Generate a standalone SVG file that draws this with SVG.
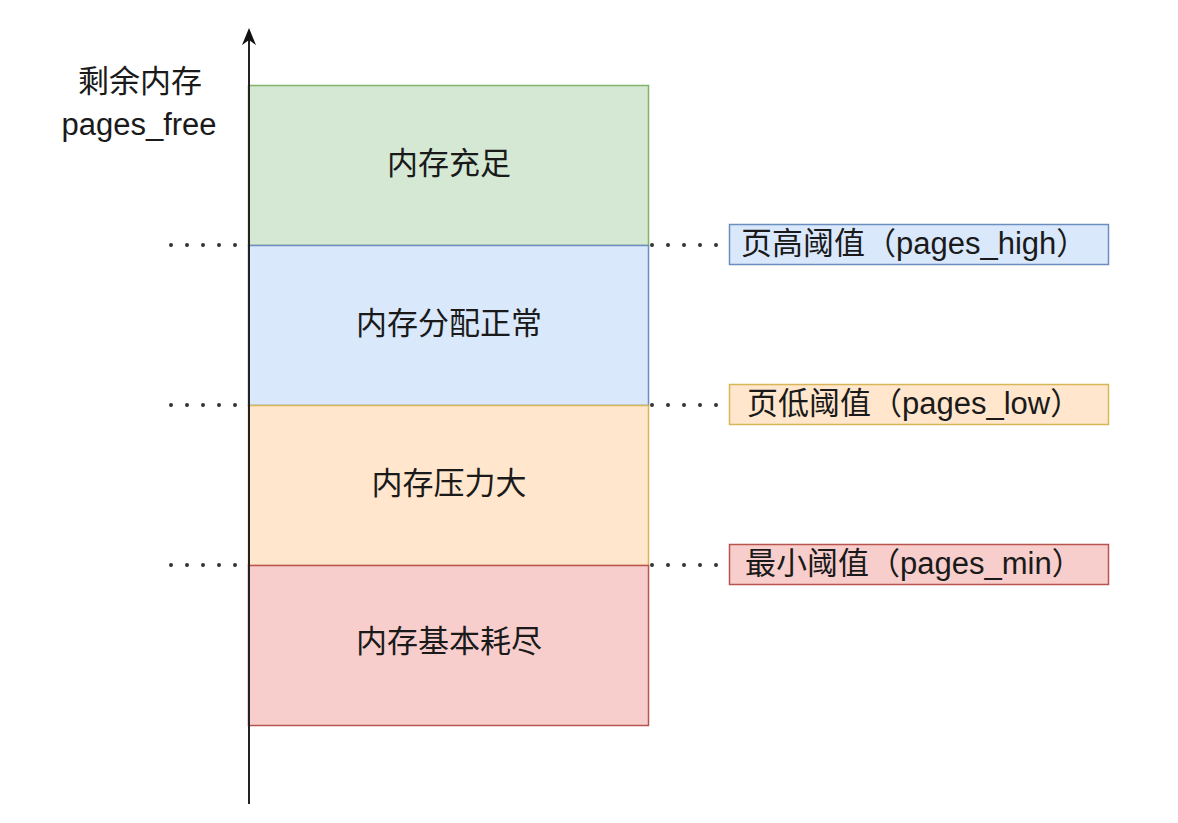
<svg xmlns="http://www.w3.org/2000/svg" width="1178" height="823" viewBox="0 0 1178 823">
  <style>
    text { font-family: "Liberation Sans", "Noto Sans CJK SC", sans-serif; font-size: 31px; fill: #1a1a1a; }
    .mid { text-anchor: middle; dominant-baseline: central; }
    .lbl { dominant-baseline: central; }
    .dots { stroke: #333; stroke-width: 4; stroke-linecap: round; stroke-dasharray: 0 16; fill: none; }
    .axis { stroke: #222; stroke-width: 2; fill: none; }
  </style>
  <defs>
    <marker id="arrow" viewBox="0 0 10 10" refX="3" refY="5" markerWidth="17" markerHeight="14" markerUnits="userSpaceOnUse" orient="auto" preserveAspectRatio="none">
      <path d="M0,0 L10,5 L0,10 L3,5 Z" fill="#111"/>
    </marker>
  </defs>
  <rect width="1178" height="823" fill="#ffffff"/>

  <!-- memory level bands -->
  <g id="band-sufficient">
    <rect x="248.5" y="85.5" width="400" height="160" fill="#d5e8d4" stroke="#82b366" stroke-width="1.5"/>
    <text class="mid" x="449" y="163">内存充足</text>
  </g>
  <g id="band-normal">
    <rect x="248.5" y="245.5" width="400" height="160" fill="#dae8fc" stroke="#6c8ebf" stroke-width="1.5"/>
    <text class="mid" x="449" y="323">内存分配正常</text>
  </g>
  <g id="band-pressure">
    <rect x="248.5" y="405.5" width="400" height="160" fill="#ffe6cc" stroke="#d6b656" stroke-width="1.5"/>
    <text class="mid" x="449" y="483">内存压力大</text>
  </g>
  <g id="band-exhausted">
    <rect x="248.5" y="565.5" width="400" height="160" fill="#f8cecc" stroke="#b85450" stroke-width="1.5"/>
    <text class="mid" x="449" y="641">内存基本耗尽</text>
  </g>

  <!-- threshold labels -->
  <g id="label-high">
    <rect x="729.5" y="224.5" width="379" height="40" fill="#dae8fc" stroke="#6c8ebf" stroke-width="1.5"/>
    <text class="lbl" x="741" y="243">页高阈值（pages_high）</text>
  </g>
  <g id="label-low">
    <rect x="729.5" y="384.5" width="379" height="40" fill="#ffe6cc" stroke="#d6b656" stroke-width="1.5"/>
    <text class="lbl" x="747" y="403">页低阈值（pages_low）</text>
  </g>
  <g id="label-min">
    <rect x="729.5" y="544.5" width="379" height="40" fill="#f8cecc" stroke="#b85450" stroke-width="1.5"/>
    <text class="lbl" x="745" y="563">最小阈值（pages_min）</text>
  </g>

  <!-- axis title -->
  <g id="axis-title">
    <text class="mid" x="140" y="81">剩余内存</text>
    <text class="mid" x="139" y="124">pages_free</text>
  </g>

  <!-- connectors -->
  <g id="connectors">
    <line class="axis" x1="249" y1="804" x2="249" y2="40" marker-end="url(#arrow)"/>
    <path class="dots" d="M171,245 H240"/>
    <path class="dots" d="M171,405 H240"/>
    <path class="dots" d="M171,565 H240"/>
    <path class="dots" d="M652,245 H720"/>
    <path class="dots" d="M652,405 H720"/>
    <path class="dots" d="M652,565 H720"/>
  </g>
</svg>
